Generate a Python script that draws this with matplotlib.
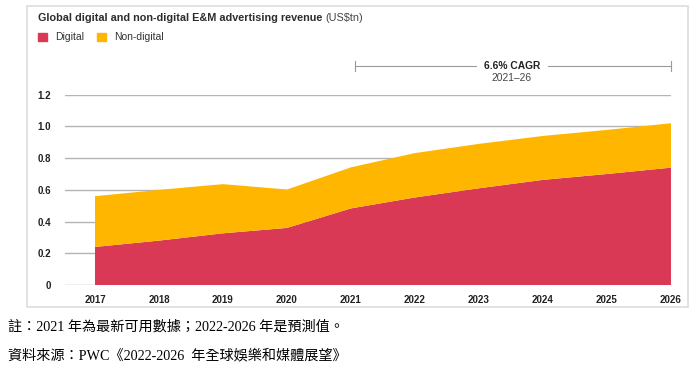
import matplotlib.pyplot as plt
from matplotlib.patches import Rectangle

years = [2017, 2018, 2019, 2020, 2021, 2022, 2023, 2024, 2025, 2026]
digital = [0.24, 0.28, 0.326, 0.36, 0.483, 0.552, 0.61, 0.663, 0.70, 0.74]
non_digital = [0.32, 0.32, 0.31, 0.242, 0.259, 0.28, 0.28, 0.277, 0.278, 0.28]
y_ticks = [0, 0.2, 0.4, 0.6, 0.8, 1.0, 1.2]
y_labels = ["0", "0.2", "0.4", "0.6", "0.8", "1.0", "1.2"]

RED = "#D93954"
YELLOW = "#FFB600"
W, H = 696, 371

plt.rcParams['font.family'] = ['Liberation Sans', 'DejaVu Sans']

fig = plt.figure(figsize=(W / 100, H / 100), dpi=100)
ax = fig.add_axes([65 / W, 1 - 285 / H, (671 - 65) / W, (285 - 94.7) / H])

ax.stackplot(years, digital, non_digital, colors=[RED, YELLOW], linewidth=0)
ax.set_xlim(2017 - 30 / 64, 2026)
ax.set_ylim(0, 1.2)
ax.set_xticks(years)
ax.set_xticklabels([str(y) for y in years], fontsize=7, fontweight='bold', color='#222222')
ax.set_yticks(y_ticks)
ax.set_yticklabels(y_labels, fontsize=7, fontweight='bold', color='#222222')
ax.tick_params(length=0, pad=7)
ax.tick_params(axis='y', pad=10)
for s in ax.spines.values():
    s.set_visible(False)
ax.grid(axis='y', color='#b4b4b4', linewidth=1.0)
ax.set_axisbelow(True)

# outer frame
fig.patches.append(Rectangle((27 / W, 1 - 307 / H), 661 / W, 301 / H,
                             transform=fig.transFigure, fill=False,
                             edgecolor='#dddddd', linewidth=1.2))

def fx(px):
    return px / W

def fy(py):
    return 1 - py / H

fig.text(fx(38), fy(18), "Global digital and non-digital E&M advertising revenue",
         fontsize=7.8, fontweight='bold', color='#2d2d2d', va='center')
fig.text(fx(325), fy(18), "(US$tn)", fontsize=7.8, color='#444444', va='center')

# legend
fig.patches.append(Rectangle((fx(38), fy(41)), 9 / W, 8 / H, transform=fig.transFigure,
                             color=RED))
fig.text(fx(55), fy(37), "Digital", fontsize=7.5, color='#333333', va='center')
fig.patches.append(Rectangle((fx(97), fy(41)), 9 / W, 8 / H, transform=fig.transFigure,
                             color=YELLOW))
fig.text(fx(114), fy(37), "Non-digital", fontsize=7.5, color='#333333', va='center')

# CAGR bracket
bc = '#9a9a9a'
fig.add_artist(plt.Line2D([fx(355), fx(476)], [fy(66), fy(66)], color=bc, lw=0.8))
fig.add_artist(plt.Line2D([fx(548), fx(671)], [fy(66), fy(66)], color=bc, lw=0.8))
fig.add_artist(plt.Line2D([fx(355), fx(355)], [fy(61), fy(71)], color=bc, lw=0.8))
fig.add_artist(plt.Line2D([fx(671), fx(671)], [fy(61), fy(71)], color=bc, lw=0.8))
fig.text(fx(512), fy(66), "6.6% CAGR", fontsize=7.4, fontweight='bold', color='#222222',
         ha='center', va='center')
fig.text(fx(512), fy(78), "2021\u201326", fontsize=7.4, color='#444444',
         ha='center', va='center')

# notes
note_font = ['Liberation Serif', 'Noto Sans CJK TC']
fig.text(fx(8), fy(327), "註：2021 年為最新可用數據；2022-2026 年是預測值。",
         fontsize=10.2, family=note_font, color='black', va='center')
fig.text(fx(8), fy(355), "資料來源：PWC《2022-2026  年全球娛樂和媒體展望》",
         fontsize=10.2, family=note_font, color='black', va='center')

fig.savefig("out.png", dpi=100)
